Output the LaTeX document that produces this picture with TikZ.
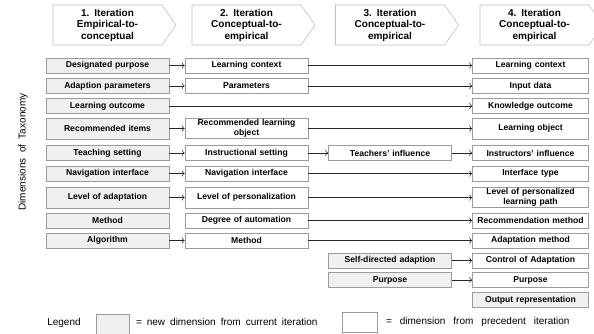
\documentclass[tikz,border=0pt]{standalone}
\usepackage{fontspec}
\setmainfont{Liberation Sans}
\usetikzlibrary{arrows.meta,shapes.symbols}
\definecolor{newgray}{RGB}{240,240,240}
\definecolor{framegray}{RGB}{155,155,155}
\definecolor{chevgray}{RGB}{190,190,190}

\tikzset{
  dimbox/.style={draw=framegray, line width=0.6pt, align=center, inner sep=1pt,
    font=\bfseries\fontsize{8.6}{9.5}\selectfont, text width=116pt,
    minimum width=123pt, minimum height=15pt},
  newdim/.style={dimbox, fill=newgray},
  olddim/.style={dimbox, fill=white},
  lastdim/.style={text width=110pt, minimum width=116pt},
  iterbox/.style={signal, signal to=east, signal pointer angle=110, draw=chevgray,
    line width=0.6pt, align=center, inner sep=0pt, text width=100pt,
    font=\bfseries\fontsize{10}{11.5}\selectfont,
    minimum width=123pt, minimum height=40pt},
  link/.style={->, line width=0.6pt, black!85}
}

\begin{document}
\begin{tikzpicture}[x=1pt, y=-1pt]
\useasboundingbox (0,0) rectangle (594,333);

\node[iterbox] (it1) at (107.5,25) {1. Iteration\\Empirical-to-\\conceptual};
\node[iterbox] (it2) at (246.5,25) {2. Iteration\\Conceptual-to-\\empirical};
\node[iterbox] (it3) at (390,25) {3. Iteration\\Conceptual-to-\\empirical};
\node[iterbox] (it4) at (534.5,25) {4. Iteration\\Conceptual-to-\\empirical};

\node[rotate=90, font=\fontsize{10}{12}\selectfont] (taxo) at (23,152) {\spaceskip=5.5pt Dimensions of Taxonomy};

% 1. iteration
\node[newdim] (purp1) at (107.5,65.5) {Designated purpose};
\node[newdim] (adpar1) at (107.5,86) {Adaption parameters};
\node[newdim] (lout1) at (107.5,106) {Learning outcome};
\node[newdim, minimum height=21pt] (items1) at (107.5,128.5) {Recommended items};
\node[newdim] (teach1) at (107.5,153) {Teaching setting};
\node[newdim] (navi1) at (107.5,173.5) {Navigation interface};
\node[newdim, minimum height=21pt] (level1) at (107.5,197.5) {Level of adaptation};
\node[newdim] (meth1) at (107.5,220.5) {Method};
\node[newdim] (algo1) at (107.5,240.5) {Algorithm};

% 2. iteration
\node[olddim] (ctx2) at (246.5,65.5) {Learning context};
\node[olddim] (par2) at (246.5,86) {Parameters};
\node[olddim] (rlo2) at (246.5,128.5) {Recommended learning\\object};
\node[olddim] (instr2) at (246.5,153) {Instructional setting};
\node[olddim] (navi2) at (246.5,173.5) {Navigation interface};
\node[olddim, minimum height=21pt] (pers2) at (246.5,197.5) {Level of personalization};
\node[olddim] (auto2) at (246.5,220.5) {Degree of automation};
\node[olddim] (meth2) at (246.5,240.5) {Method};

% 3. iteration
\node[olddim] (teach3) at (390,153) {Teachers' influence};
\node[newdim] (self3) at (390,260.5) {Self-directed adaption};
\node[newdim] (purp3) at (390,280) {Purpose};

% 4. iteration
\node[olddim, lastdim] (ctx4) at (530.5,65.5) {Learning context};
\node[olddim, lastdim] (input4) at (530.5,86) {Input data};
\node[olddim, lastdim] (know4) at (530.5,106) {Knowledge outcome};
\node[olddim, lastdim, minimum height=21pt] (lobj4) at (530.5,128.5) {Learning object};
\node[olddim, lastdim] (instr4) at (530.5,153) {Instructors' influence};
\node[olddim, lastdim] (iface4) at (530.5,173.5) {Interface type};
\node[olddim, lastdim] (path4) at (530.5,197.5) {Level of personalized\\learning path};
\node[olddim, lastdim] (recm4) at (530.5,220.5) {Recommendation method};
\node[olddim, lastdim] (adam4) at (530.5,240.5) {Adaptation method};
\node[olddim, lastdim] (ctrl4) at (530.5,260.5) {Control of Adaptation};
\node[olddim, lastdim] (purp4) at (530.5,280) {Purpose};
\node[newdim, lastdim] (outp4) at (530.5,300) {Output representation};

\draw[link] (purp1) -- (ctx2);
\draw[link] (ctx2) -- (ctx4);
\draw[link] (adpar1) -- (par2);
\draw[link] (par2) -- (input4);
\draw[link] (lout1) -- (know4);
\draw[link] (items1) -- (rlo2);
\draw[link] (rlo2) -- (lobj4);
\draw[link] (teach1) -- (instr2);
\draw[link] (instr2) -- (teach3);
\draw[link] (teach3) -- (instr4);
\draw[link] (navi1) -- (navi2);
\draw[link] (navi2) -- (iface4);
\draw[link] (level1) -- (pers2);
\draw[link] (pers2) -- (path4);
\draw[link] (auto2) -- (recm4);
\draw[link] (algo1) -- (meth2);
\draw[link] (meth2) -- (adam4);
\draw[link] (self3) -- (ctrl4);
\draw[link] (purp3) -- (purp4);

% legend
\node[font=\fontsize{10}{12}\selectfont] (legend) at (64,323) {Legend};
\node[draw=framegray, fill=newgray, line width=0.6pt, minimum width=33pt, minimum height=20pt] (legnew) at (112.5,324) {};
\node[anchor=west, font=\fontsize{10}{12}\selectfont] (legnewtxt) at (132.5,322) {\spaceskip=5pt = new dimension from current iteration};
\node[draw=framegray, fill=white, line width=0.6pt, minimum width=35pt, minimum height=20pt] (legold) at (359.5,322.5) {};
\node[anchor=west, font=\fontsize{10}{12}\selectfont] (legoldtxt) at (382.5,322) {\spaceskip=8pt = dimension from precedent iteration};
\end{tikzpicture}
\end{document}
